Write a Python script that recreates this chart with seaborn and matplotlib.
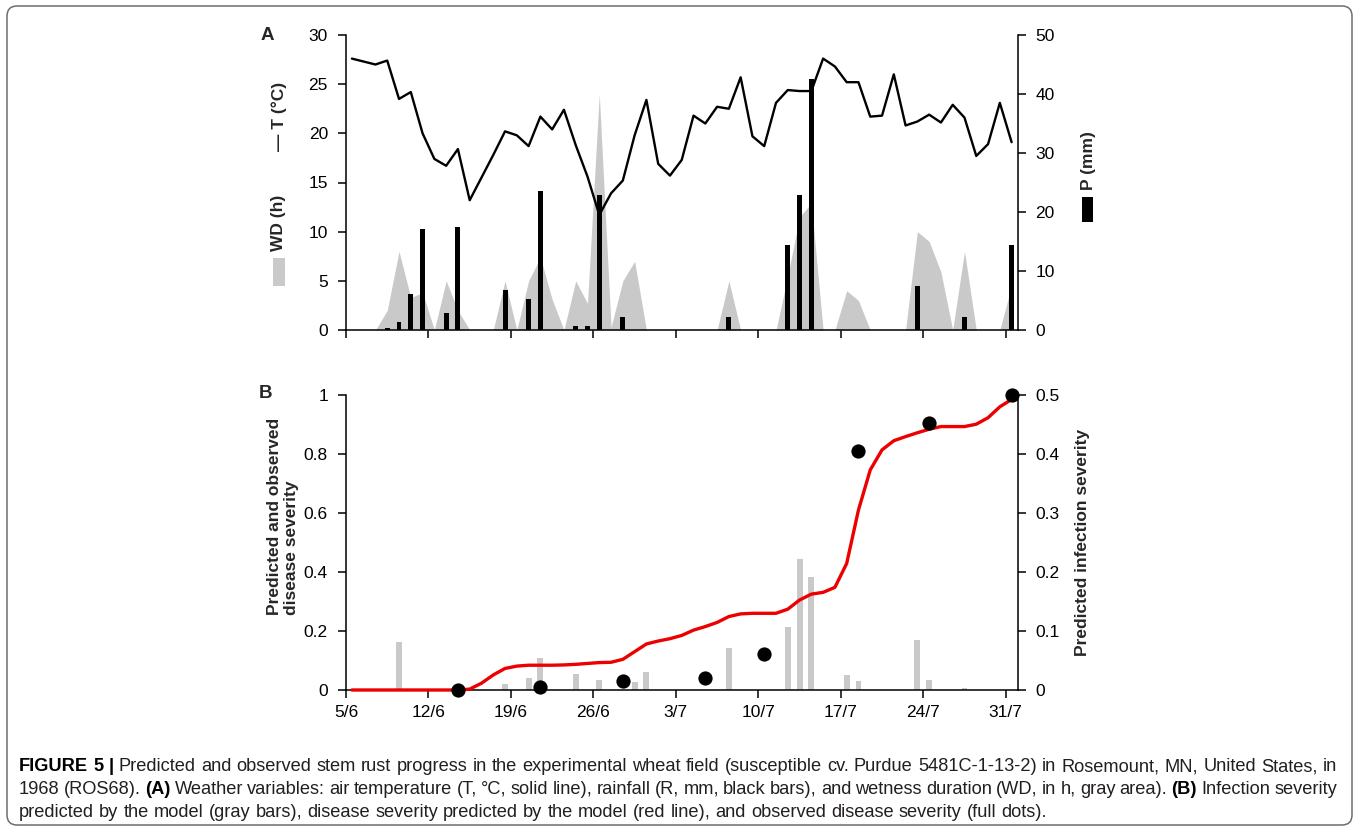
import numpy as np
import matplotlib
matplotlib.use("Agg")
import matplotlib.pyplot as plt
import seaborn as sns
from matplotlib.patches import Rectangle, FancyBboxPatch
from matplotlib.ticker import FuncFormatter
from matplotlib import font_manager

# ---------------- data ----------------
days = np.arange(57)  # 5 June .. 31 July 1968
tick_pos = list(range(0, 57, 7))
tick_labels = ['5/6', '12/6', '19/6', '26/6', '3/7', '10/7', '17/7', '24/7', '31/7']

temp = [27.6, 27.3, 27.0, 27.4, 23.5, 24.2, 20.0, 17.4, 16.7, 18.4,
        13.2, 15.5, 17.8, 20.2, 19.8, 18.7, 21.7, 20.4, 22.4, 18.8,
        15.6, 11.7, 13.9, 15.2, 19.8, 23.4, 16.9, 15.7, 17.3, 21.8,
        21.0, 22.7, 22.5, 25.7, 19.7, 18.7, 23.1, 24.4, 24.3, 24.3,
        27.6, 26.8, 25.2, 25.2, 21.7, 21.8, 26.0, 20.8, 21.2, 21.9,
        21.1, 22.9, 21.6, 17.7, 18.9, 23.1, 19.1]

wetness = [0, 0, 0, 2.0, 8.0, 3.3, 3.8, 0, 5.0, 2.0,
           0, 0, 0, 5.0, 0, 5.0, 7.4, 3.1, 0, 5.0,
           2.7, 24.0, 0.3, 5.0, 7.0, 0, 0, 0, 0, 0,
           0, 0, 5.0, 0, 0, 0, 0, 5.5, 11.5, 12.9,
           0, 0, 4.0, 3.0, 0, 0, 0, 0, 10.0, 9.0,
           5.9, 0, 8.0, 0, 0, 0, 4.5]

rain = [0, 0, 0, 0.3, 1.3, 6.1, 17.1, 0, 2.9, 17.4,
        0, 0, 0, 6.8, 0, 5.2, 23.5, 0, 0, 0.6,
        0.6, 22.9, 0, 2.2, 0, 0, 0, 0, 0, 0,
        0, 0, 2.2, 0, 0, 0, 0, 14.4, 22.8, 42.5,
        0, 0, 0, 0, 0, 0, 0, 0, 7.5, 0,
        0, 0, 2.2, 0, 0, 0, 14.4]

disease = [0, 0, 0, 0, 0, 0, 0, 0, 0, 0,
           0.003, 0.023, 0.051, 0.073, 0.081, 0.084, 0.084, 0.084, 0.085, 0.087,
           0.090, 0.093, 0.094, 0.104, 0.130, 0.156, 0.166, 0.174, 0.185, 0.203,
           0.215, 0.229, 0.249, 0.258, 0.260, 0.260, 0.260, 0.274, 0.305, 0.325,
           0.331, 0.348, 0.429, 0.610, 0.746, 0.814, 0.845, 0.859, 0.872, 0.884,
           0.893, 0.893, 0.893, 0.901, 0.923, 0.960, 0.985]

infection = [0, 0, 0, 0, 0.081, 0, 0, 0, 0, 0,
             0, 0, 0, 0.011, 0, 0.021, 0.054, 0, 0, 0.027,
             0, 0.017, 0, 0, 0.013, 0.031, 0, 0, 0, 0,
             0, 0, 0.072, 0, 0, 0, 0, 0.107, 0.222, 0.191,
             0, 0, 0.025, 0.015, 0, 0, 0, 0, 0.084, 0.017,
             0, 0, 0.003, 0, 0, 0, 0]

obs_day = [9, 16, 23, 30, 35, 43, 49, 56]
obs_sev = [0.0, 0.011, 0.031, 0.042, 0.122, 0.811, 0.904, 1.0]

# ---------------- style ----------------
sns.set_theme(style="white")
plt.rcParams['font.family'] = ['Liberation Sans', 'DejaVu Sans']

GRAY = '#c9c9c9'
RED = '#ec0000'
TICK_FS = 12.5
LAB_FS = 12.5

W, H = 1358, 831
fig = plt.figure(figsize=(W / 100, H / 100), dpi=100)


def fx(px):
    return px / W


def fy(py):
    return 1 - py / H


xs = days + 0.5
temp = np.array(temp)
wetness = np.array(wetness)
rain = np.array(rain)
disease = np.array(disease)
infection = np.array(infection)
obs_x = np.array(obs_day) + 0.5

fmt = FuncFormatter(lambda v, p: f'{v:g}')


def style_y(ax, side):
    ax.tick_params(axis='y', which='both', direction='out', length=6, width=1.1,
                   colors='black', labelsize=TICK_FS, pad=7,
                   left=(side == 'left'), right=(side == 'right'),
                   labelleft=(side == 'left'), labelright=(side == 'right'))
    ax.yaxis.set_major_formatter(fmt)


# ---------------- panel A ----------------
left, right = fx(346), fx(1017.5)
axA = fig.add_axes([left, fy(330), right - left, 295 / H])
axA.fill_between(xs, wetness, 0, color=GRAY, lw=0, zorder=1)
axA.set_ylim(0, 30)
axA.set_yticks(range(0, 31, 5))

axP = axA.twinx()
m = rain > 0
sns.barplot(x=xs[m], y=rain[m], native_scale=True, color='black', saturation=1,
            width=0.42, errorbar=None, linewidth=0, ax=axP)
axP.set_ylim(0, 50)
axP.set_yticks(range(0, 51, 10))

axT = axA.twinx()
sns.lineplot(x=xs, y=temp, color='black', lw=1.7, ax=axT)
axT.set_ylim(0, 30)
axT.set_axis_off()

# ---------------- panel B ----------------
axB = fig.add_axes([left, fy(690), right - left, 295 / H])
axI = axB.twinx()
mi = infection > 0
sns.barplot(x=xs[mi], y=infection[mi], native_scale=True, color=GRAY, saturation=1,
            width=0.5, errorbar=None, linewidth=0, ax=axI)
axI.set_ylim(0, 0.5)
axI.set_yticks(np.arange(0, 0.51, 0.1))

sns.lineplot(x=xs, y=disease, color=RED, lw=2.4, ax=axB, clip_on=False, zorder=4)
sns.scatterplot(x=obs_x, y=obs_sev, color='black', s=105, linewidth=0,
                clip_on=False, zorder=5, ax=axB)
axB.set_ylim(0, 1)
axB.set_yticks(np.arange(0, 1.01, 0.2))
axB.set_zorder(axI.get_zorder() + 1)
axB.patch.set_visible(False)

for ax in (axA, axP, axT, axB, axI):
    ax.set_xlim(0, 57)
    ax.set_xlabel('')
    ax.set_ylabel('')
    ax.grid(False)

for ax, side in ((axA, 'left'), (axP, 'right'), (axB, 'left'), (axI, 'right')):
    style_y(ax, side)
    for s in ('top', 'left', 'right', 'bottom'):
        ax.spines[s].set_visible(False)
    ax.spines[side].set_visible(True)
    ax.spines[side].set_color('black')
    ax.spines[side].set_linewidth(1.1)

for ax, show in ((axA, False), (axB, True)):
    ax.spines['bottom'].set_visible(True)
    ax.spines['bottom'].set_color('black')
    ax.spines['bottom'].set_linewidth(1.1)
    ax.set_xticks(tick_pos)
    ax.set_xticklabels(tick_labels if show else [''] * len(tick_pos))
    ax.tick_params(axis='x', direction='out', length=6, width=1.1, colors='black',
                   labelsize=TICK_FS, pad=5, bottom=True, labelbottom=show)

# ---------------- labels ----------------
fig.text(fx(267), fy(36), 'A', fontsize=13.5, fontweight='bold', ha='center', va='center')
fig.text(fx(266), fy(393), 'B', fontsize=13.5, fontweight='bold', ha='center', va='center')

fig.text(fx(279), fy(116), '— T (°C)', rotation=90, fontsize=LAB_FS, fontweight='bold',
         ha='center', va='center')
fig.text(fx(279), fy(223), 'WD (h)', rotation=90, fontsize=LAB_FS, fontweight='bold',
         ha='center', va='center')
fig.add_artist(Rectangle((fx(273), fy(286)), 12 / W, 28 / H, transform=fig.transFigure,
                         color=GRAY, lw=0))
fig.text(fx(1088), fy(161), 'P (mm)', rotation=90, fontsize=LAB_FS, fontweight='bold',
         ha='center', va='center')
fig.add_artist(Rectangle((fx(1082), fy(222)), 11 / W, 25 / H, transform=fig.transFigure,
                         color='black', lw=0))

fig.text(fx(283), fy(516), 'Predicted and observed\ndisease severity', rotation=90,
         fontsize=LAB_FS, fontweight='bold', ha='center', va='center',
         multialignment='left', linespacing=1.15)
fig.text(fx(1083), fy(542), 'Predicted infection severity', rotation=90,
         fontsize=LAB_FS, fontweight='bold', ha='center', va='center')

# ---------------- caption ----------------
def font_ok(name):
    try:
        font_manager.findfont(font_manager.FontProperties(family=name),
                              fallback_to_default=False)
        return True
    except Exception:
        return False


cap_family = 'Liberation Sans Narrow' if font_ok('Liberation Sans Narrow') else 'Liberation Sans'
CAP_COLOR = '#231f20'

caption = [
    ([("FIGURE 5 |", True),
      ("Predicted and observed stem rust progress in the experimental wheat field "
       "(susceptible cv. Purdue 5481C-1-13-2) in Rosemount, MN, United States, in", False)], True),
    ([("1968 (ROS68).", False), ("(A)", True),
      ("Weather variables: air temperature (T, °C, solid line), rainfall (R, mm, black bars), "
       "and wetness duration (WD, in h, gray area).", False), ("(B)", True),
      ("Infection severity", False)], True),
    ([("predicted by the model (gray bars), disease severity predicted by the model "
       "(red line), and observed disease severity (full dots).", False)], False),
]

renderer = fig.canvas.get_renderer()


def text_w(s, size, bold):
    t = fig.text(0, 0, s, fontsize=size, fontweight='bold' if bold else 'normal',
                 family=cap_family)
    w = t.get_window_extent(renderer=renderer).width
    t.remove()
    return w


def words_of(tokens):
    out = []
    for txt, b in tokens:
        for w in txt.split():
            out.append((w, b))
    return out


base = 10.0
w1 = words_of(caption[0][0])
sp = text_w('a a', base, False) - text_w('aa', base, False)
nat = sum(text_w(w, base, b) for w, b in w1) + sp * (len(w1) - 1)
CAP_X0, CAP_X1 = 19, 1337
cap_size = base * (CAP_X1 - CAP_X0) / nat
cap_size = min(cap_size, 14.0)
space = text_w('a a', cap_size, False) - text_w('aa', cap_size, False)

baselines = [771, 794, 817]
for (tokens, justify), yb in zip(caption, baselines):
    words = words_of(tokens)
    widths = [text_w(w, cap_size, b) for w, b in words]
    if justify and len(words) > 1:
        gap = (CAP_X1 - CAP_X0 - sum(widths)) / (len(words) - 1)
    else:
        gap = space
    x = CAP_X0
    for (w, b), wd in zip(words, widths):
        fig.text(fx(x), fy(yb), w, fontsize=cap_size, family=cap_family,
                 fontweight='bold' if b else 'normal', ha='left', va='baseline',
                 color='black' if b else CAP_COLOR)
        x += wd + gap

# outer frame
fig.add_artist(FancyBboxPatch((7, 6), 1345, 819, boxstyle='round,pad=0,rounding_size=10',
                              transform=None, fill=False, ec='#6e6e6e', lw=1.1))

fig.savefig('out.png', dpi=100)
